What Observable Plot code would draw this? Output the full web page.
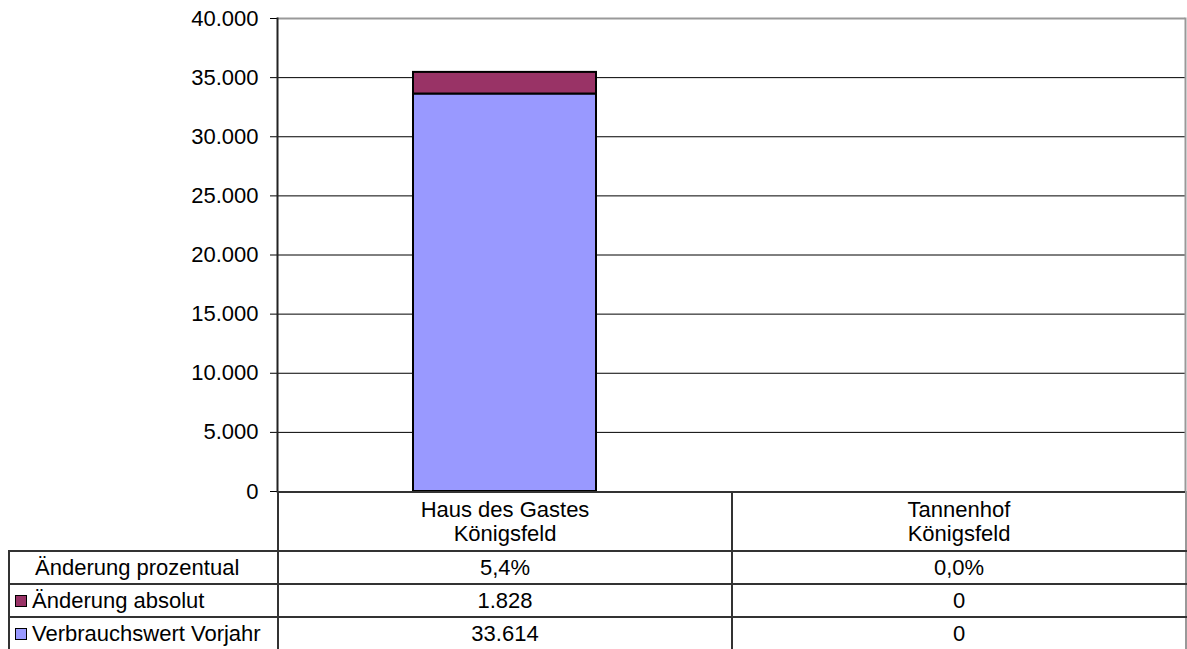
<!DOCTYPE html>
<html>
<head>
<meta charset="utf-8">
<script src="https://cdn.jsdelivr.net/npm/d3@7"></script>
<script src="https://cdn.jsdelivr.net/npm/@observablehq/plot@0.6"></script>
<style>
  body { margin: 0; background: #fff; font-family: "Liberation Sans", Arial, sans-serif; }
  #wrap { position: relative; width: 1187px; height: 649px; overflow: hidden; background: #fff; }
  #chart { position: absolute; left: 0; top: 0; }
  #tbl { position: absolute; left: 8px; top: 491px; border-collapse: collapse; table-layout: fixed;
         font-size: 22px; color: #000; font-family: "Liberation Sans", Arial, sans-serif; }
  #tbl td { border: 2px solid #333; padding: 0; text-align: center; white-space: pre-line; line-height: 24px; }
  #tbl td.lab { text-align: left; padding-left: 5px; white-space: nowrap; }
  #tbl td.blank { border-top: none; border-left: none; border-bottom: 2px solid #333; }
  #tbl td.last { border-right-color: #999; }
  .sw { display: inline-block; width: 10px; height: 10px; border: 1.5px solid #000; margin-right: 5px; vertical-align: 1px; }
  .sp { display: inline-block; width: 20px; }
</style>
</head>
<body>
<div id="wrap">
  <div id="chart"></div>
  <table id="tbl"></table>
</div>
<script>
// ---- data ----
const categories = ["Haus des Gastes\nKönigsfeld", "Tannenhof\nKönigsfeld"];
const seriesNames = ["Verbrauchswert Vorjahr", "Änderung absolut"];
const seriesColors = ["#9999FF", "#993366"];
const verbrauchVorjahr = [33614, 0];
const aenderungAbsolut = [1828, 0];
const aenderungProzent = [5.4, 0.0];
const yTicks = [0, 5000, 10000, 15000, 20000, 25000, 30000, 35000, 40000];

const de = d3.formatLocale({decimal: ",", thousands: ".", grouping: [3], currency: ["", " €"]});
const fmtNum = de.format(",");
const fmtPct = v => de.format(".1f")(v) + "%";

const rows = [];
categories.forEach((c, i) => {
  rows.push({cat: c, series: seriesNames[0], value: verbrauchVorjahr[i]});
  rows.push({cat: c, series: seriesNames[1], value: aenderungAbsolut[i]});
});

const chart = Plot.plot({
  width: 1187,
  height: 492,
  marginLeft: 277,
  marginRight: 2,
  marginTop: 18,
  marginBottom: 1,
  style: {fontFamily: "Liberation Sans, Arial, sans-serif", fontSize: "22px", color: "#000", background: "transparent", overflow: "visible"},
  x: {domain: categories, padding: 0, axis: null},
  y: {domain: [0, 40000], axis: null},
  color: {domain: seriesNames, range: seriesColors},
  marks: [
    Plot.ruleY(yTicks.slice(0, -1), {stroke: "#000", strokeWidth: 1}),
    Plot.ruleY([yTicks[yTicks.length - 1]], {stroke: "#999", strokeWidth: 2}),
    Plot.frame({anchor: "right", stroke: "#999", strokeWidth: 2}),
    Plot.barY(rows.filter(d => d.value > 0), Plot.stackY({
      x: "cat", y: "value", fill: "series", stroke: "#000", strokeWidth: 2,
      insetLeft: 136, insetRight: 135
    })),
    Plot.axisY({ticks: yTicks, tickFormat: fmtNum, tickSize: 7, tickPadding: 12, fontSize: 22, stroke: "#000", label: null}),
    Plot.frame({anchor: "left", stroke: "#222", strokeWidth: 2})
  ]
});
document.getElementById("chart").appendChild(chart);

// ---- data table ----
const tbl = document.getElementById("tbl");
const colW = [269, 454, 454];
const cg = document.createElement("colgroup");
colW.forEach(w => { const c = document.createElement("col"); c.style.width = w + "px"; cg.appendChild(c); });
tbl.appendChild(cg);

function addRow(h, cells) {
  const tr = document.createElement("tr");
  tr.style.height = h + "px";
  cells.forEach(c => tr.appendChild(c));
  tbl.appendChild(tr);
}
function td(html, cls) { const t = document.createElement("td"); if (cls) t.className = cls; t.innerHTML = html; return t; }

addRow(59, [td("", "blank"), ...categories.map((c, i) => td(c, i === categories.length - 1 ? "last" : ""))]);
addRow(33, [td('<span class="sp"></span>Änderung prozentual', "lab"), ...aenderungProzent.map((v, i) => td(fmtPct(v), i === 1 ? "last" : ""))]);
addRow(33, [td(`<span class="sw" style="background:${seriesColors[1]}"></span>${seriesNames[1]}`, "lab"), ...aenderungAbsolut.map((v, i) => td(fmtNum(v), i === 1 ? "last" : ""))]);
addRow(33, [td(`<span class="sw" style="background:${seriesColors[0]}"></span>${seriesNames[0]}`, "lab"), ...verbrauchVorjahr.map((v, i) => td(fmtNum(v), i === 1 ? "last" : ""))]);
</script>
</body>
</html>
